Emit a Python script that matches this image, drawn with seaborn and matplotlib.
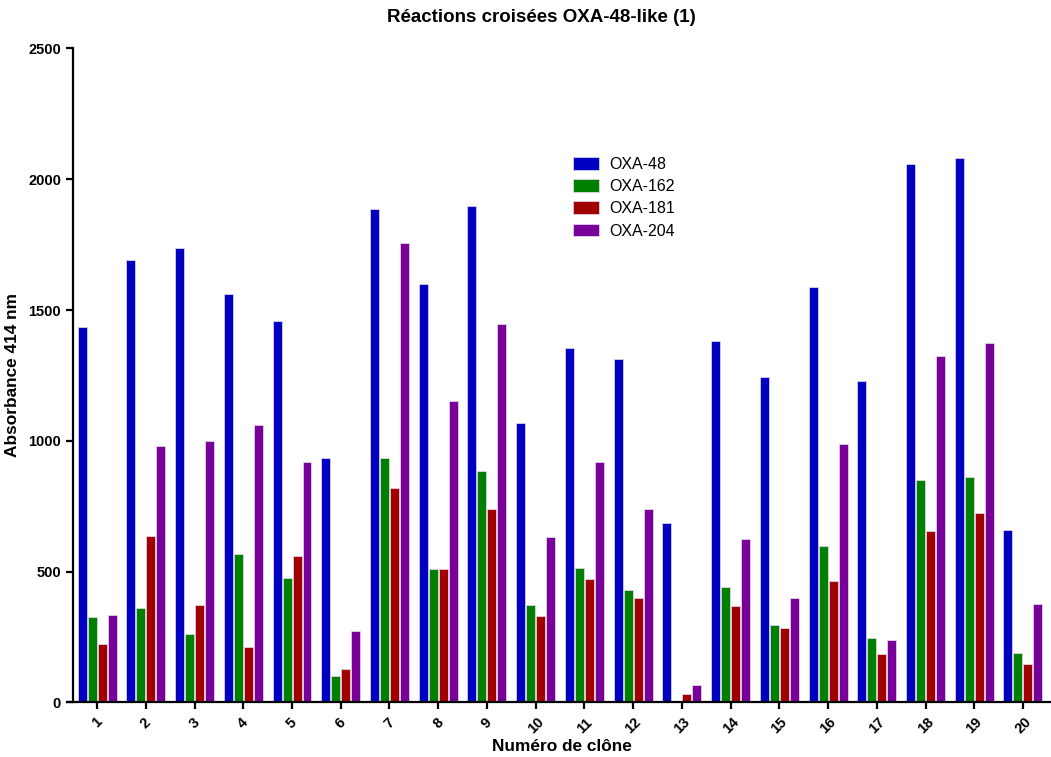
import pandas as pd
import seaborn as sns
import matplotlib.pyplot as plt

# values (absorbance at 414 nm)
clones = [str(i) for i in range(1, 21)]
oxa_48 = [1437, 1692, 1737, 1560, 1460, 933, 1887, 1599, 1899, 1068,
          1356, 1314, 686, 1380, 1244, 1589, 1228, 2059, 2081, 661]
oxa_162 = [325, 361, 261, 566, 475, 102, 936, 512, 886, 371,
           516, 429, 7, 440, 298, 597, 247, 849, 863, 188]
oxa_181 = [223, 638, 372, 213, 559, 129, 818, 510, 741, 331,
           473, 399, 34, 367, 283, 465, 185, 657, 725, 147]
oxa_204 = [334, 979, 1001, 1060, 921, 273, 1757, 1151, 1445, 633,
           919, 741, 66, 624, 399, 987, 237, 1325, 1375, 375]
variants = ["OXA-48", "OXA-162", "OXA-181", "OXA-204"]
colors = ["#0000c0", "#008000", "#a00000", "#780098"]

# long format for seaborn
df = pd.DataFrame({"OXA-48": oxa_48, "OXA-162": oxa_162,
                   "OXA-181": oxa_181, "OXA-204": oxa_204}, index=clones)
df = df.reset_index(names="clone").melt(id_vars="clone", var_name="variant",
                                         value_name="absorbance")

sns.set_style("ticks")
plt.rcParams["font.family"] = ["Liberation Sans", "DejaVu Sans"]
plt.rcParams["text.color"] = "black"
plt.rcParams["axes.labelcolor"] = "black"
plt.rcParams["xtick.color"] = "black"
plt.rcParams["ytick.color"] = "black"

fig = plt.figure(figsize=(10.51, 7.57), dpi=100)
ax = fig.add_axes([0.0692, 0.072, 0.9308, 0.864])

sns.barplot(data=df, x="clone", y="absorbance", hue="variant",
            hue_order=variants, palette=colors, saturation=1, width=0.82,
            gap=0.1, edgecolor="#e8e0f0", linewidth=0.5, ax=ax)

ax.set_xlim(-0.5, 19.575)
ax.set_ylim(0, 2500)
ax.set_yticks(range(0, 2501, 500))

sns.despine(ax=ax)
for side in ["left", "bottom"]:
    ax.spines[side].set_linewidth(1.6)
    ax.spines[side].set_color("black")
ax.spines["bottom"].set_bounds(-0.62, 19.575)
ax.tick_params(axis="both", width=1.6, length=5, labelsize=10.5, color="black")
ax.tick_params(axis="x", pad=4)

for lab in ax.get_yticklabels():
    lab.set_fontweight("bold")
for lab in ax.get_xticklabels():
    lab.set_fontweight("bold")
    lab.set_rotation(45)
    lab.set_ha("center")

ax.set_xlabel("Numéro de clône", fontsize=12.4, fontweight="bold", labelpad=2)
ax.set_ylabel("Absorbance 414 nm", fontsize=12.4, fontweight="bold", labelpad=6)
fig.text(541 / 1051, 1 - 18 / 757, "Réactions croisées OXA-48-like (1)",
         ha="center", va="center", fontsize=13.5, fontweight="bold")

ax.legend(loc="upper left", bbox_to_anchor=(565 / 1051, 1 - 149 / 757),
          bbox_transform=fig.transFigure, frameon=False, fontsize=11.5,
          borderpad=0, handlelength=1.6, handleheight=0.85,
          handletextpad=0.65, labelspacing=0.45, title=None)

fig.savefig("out.png", dpi=100)
